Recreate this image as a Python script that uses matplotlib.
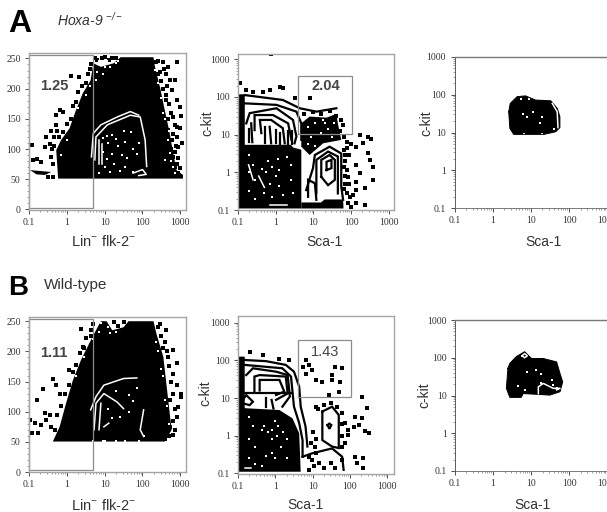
import numpy as np
import matplotlib
matplotlib.use('Agg')
import matplotlib.pyplot as plt
from matplotlib.ticker import FixedLocator, LogLocator, NullFormatter, MultipleLocator

plt.rcParams['font.family'] = ['Liberation Sans', 'DejaVu Sans']
plt.rcParams['mathtext.default'] = 'regular'

W, H = 607, 512
log_ticks = [0.1, 1, 10, 100, 1000]
log_labels = ['0.1', '1', '10', '100', '1000']
fsc_ticks = [0, 50, 100, 150, 200, 250]
gate_values = ['1.25', '2.04', '1.11', '1.43']
ko_title = 'Hoxa-9 $^{-/-}$'
wt_title = 'Wild-type'

# all x values below are log10 of intensity, y is FSC (left) or log10 (middle, right)
a1_body = [(-0.23,51),(-0.28,98),(-0.15,115),(0.07,134),(0.24,164),(0.42,192),(0.63,214),(0.70,242),(0.90,236),(1.24,242),(1.42,252),(2.29,252),(2.33,236),(2.46,203),(2.59,164),(2.72,126),(2.81,93),(2.90,65),(3.07,57),(3.07,51)]
a1_tail = [(-0.97,65),(-0.41,62),(-0.58,57),(-0.80,58)]
a1_white = [[(0.65,87),(0.70,126),(0.90,140),(1.33,153),(1.68,162),(1.90,156)],
            [(0.74,82),(0.77,120),(1.07,140),(1.68,156),(1.94,153),(2.07,115),(2.11,71)],
            [(0.85,76),(0.85,115)], [(0.94,76),(0.94,109)], [(1.75,60),(2.0,66),(2.1,58),(1.9,56)]]
a1_black = [(-0.91,106),(-0.89,82),(-0.80,84),(-0.67,79),(-0.58,104),(-0.45,109),(-0.54,120),(-0.41,129),(-0.28,140),(-0.28,156),(-0.10,162),(-0.19,164),(-0.37,76),(-0.41,87),(-0.50,54),(-0.37,53),(0.33,220),(0.11,221),
            (2.37,244),(2.55,244),(2.68,236),(2.90,244),(2.85,214),(2.63,225),(2.46,228),(2.77,198),(2.98,170),(2.90,181),(2.81,153),(2.68,131),(2.90,137),(2.77,115),(2.94,104),(2.81,87),(2.98,68),(2.85,71),(2.63,181),
            (0.81,247),(0.94,250),(1.11,247),(1.29,250),
            (2.42,225),(2.5,212),(2.55,200),(2.62,190),(2.7,175),(2.75,160),(2.68,150),(2.85,140),(2.8,125),(2.88,105),(2.9,120),(2.85,95),(2.95,85),(2.9,75),(2.95,60),(2.75,100),(2.65,205),(2.72,215),(2.58,232),(2.4,246),(3.05,110),(3.0,135),(3.02,155),
            (-0.2,120),(-0.1,128),(0,142),(0.1,150),(0.15,172),(0.25,178),(0.3,195),(0.4,205),(0.5,210),(0.55,225),(-0.33,105),(-0.33,120),(-0.4,100),(-0.25,130),(0.6,232),(0.65,240),(0.75,250),(1.0,252),(1.2,251)]
a1_specks = [(0.95,118),(1.05,122),(1.2,124),(1.3,117),(1.1,110),(1.35,105),(1.55,112),(1.7,128),(1.75,100),(1.2,92),(1.45,90),(1.6,85),(1.85,92),(1.0,70),(1.15,62),(1.4,64),(1.55,70),(1.75,62),(0.85,60),(1.25,76),(1.5,130),(1.9,110),(0.95,95),(1.05,84),
             (0.90,239),(0.81,228),(1.07,245),(1.29,242),(2.33,231),(2.55,159),(2.68,115),(2.59,82),(2.72,93),
             (0.3,168),(0.5,190),(0.6,205),(0.78,215),(0.95,225),(1.15,235),(1.35,245),(2.4,210),(2.5,185),(2.6,150),(2.7,130),(-0.15,90),(0,115),(2.75,80),(2.8,70),(2.85,60),(1.0,235),(0.85,245)]

a2_fill = [[(-1,-0.96),(-1,2.07),(-0.82,2.07),(-0.82,0.73),(0.40,0.73),(0.46,0.66),(0.68,0.60),(0.68,-0.96)],
           [(0.68,-0.96),(0.68,-0.80),(1.2,-0.80),(1.3,-0.72),(1.79,-0.72),(1.8,-0.96)],
           [(0.68,1.30),(0.90,1.48),(1.35,1.45),(1.61,1.55),(1.65,1.30),(1.74,0.86),(1.26,0.77),(0.90,0.46),(0.68,0.68)]]
a2_lines = [[(-0.82,2.05),(0.19,1.92),(0.64,1.70),(1.08,1.61),(1.61,1.70)],
            [(-0.82,1.83),(0.02,1.79),(0.55,1.61),(0.68,1.30),(0.68,0.86)],
            [(-0.78,1.30),(-0.69,1.57),(0.02,1.70),(0.46,1.39),(0.55,0.95),(0.50,0.77)],
            [(-0.56,1.12),(-0.56,1.52),(-0.07,1.52),(0.33,1.30),(0.42,0.86)],
            [(-0.38,1.04),(-0.42,1.39),(-0.12,1.39),(0.19,1.17),(0.24,0.77)],
            [(-0.29,1.21),(-0.29,0.77)], [(-0.16,1.21),(-0.12,0.77)], [(0.02,1.12),(0.02,0.77)],
            [(0.12,1.05),(0.12,0.75)], [(0.33,1.1),(0.33,0.75)], [(0.44,1.1),(0.44,0.75)], [(-0.72,1.15),(-0.72,0.8)], [(-0.65,1.3),(-0.62,0.8)],
            [(0.81,-0.47),(0.99,0.11),(1.04,0.46),(1.43,0.68),(1.74,0.50),(1.74,-0.38),(1.79,-0.73)],
            [(1.08,-0.56),(1.08,0.33),(1.39,0.55),(1.65,0.42),(1.65,-0.56)],
            [(1.21,-0.12),(1.21,0.33),(1.43,0.46),(1.57,0.33),(1.57,-0.20),(1.39,-0.34),(1.21,-0.12)],
            [(1.35,0.06),(1.35,0.28),(1.48,0.33),(1.48,0.11),(1.35,0.06)],
            [(0.86,-0.65),(0.86,-0.20),(1.04,-0.29),(1.08,-0.73)]]
a2_black = [(1.74,1.39),(1.79,1.26),(2.23,0.99),(2.45,0.93),(2.54,0.88),(2.32,0.77),(2.14,0.68),(1.88,0.64),(2.45,0.50),(2.50,0.33),(2.58,0.15),(2.14,0.19),(2.23,-0.03),(1.92,-0.12),(2.14,-0.25),(2.58,-0.20),(2.36,-0.42),(2.14,-0.47),(1.96,-0.65),(2.14,-0.82),(2.36,-0.87),(2.01,-0.91),(1.92,-0.82),(0.19,2.23),(0.11,2.27),(-0.12,3.14),(-0.96,2.36),(-0.78,2.19),(-0.60,2.14),(-0.34,2.14),(-0.16,2.19),(0.90,1.96),(0.50,1.96),(1.85,0.3),(1.9,0.05),(1.85,-0.3),(1.95,0.45),
            (0.75,1.55),(1.0,1.6),(1.2,1.55),(1.45,1.62),(1.6,1.5),(1.7,1.1),(1.8,0.95),(1.9,0.8),(2.0,0.75),(1.8,0.6),(1.85,0.45),(1.8,0.15),(1.85,-0.1),(1.8,-0.45),(1.9,-0.55),(1.95,-0.3),(2.05,-0.6)]
a2_specks = [(-0.7,0.45),(-0.6,0.2),(-0.7,0.0),(-0.55,-0.2),(-0.72,-0.5),(-0.55,-0.7),(-0.35,0.1),(-0.2,0.3),(-0.25,0),(-0.1,0.15),(0.05,0.35),(0.1,0.05),(0,-0.1),(-0.15,-0.3),(0.1,-0.35),(-0.3,-0.55),(-0.1,-0.65),(0.2,-0.6),(0.4,0.2),(0.4,-0.2),(0.45,-0.55),(0.3,0.4),
             (0.85,1.2),(1.05,1.3),(1.25,1.4),(0.95,0.95),(1.2,1.05),(1.4,1.15),(1.5,0.95),(1.05,0.7),(0.85,0.75),(1.3,1.3),(1.55,1.3)]
a2_white = [[(-0.15,-0.87),(0.3,-0.87)], [(-0.72,0.2),(-0.6,-0.2)], [(-0.45,-0.1),(-0.3,-0.4)]]

a3_body = [(0.42,1.55),(0.46,1.77),(0.64,1.95),(0.86,1.97),(1.12,1.86),(1.52,1.84),(1.69,1.64),(1.76,1.42),(1.76,1.13),(1.65,1.02),(1.34,0.95),(0.82,0.95),(0.55,0.95),(0.45,1.11)]
a3_white = [[(1.56,1.77),(1.69,1.55),(1.71,1.13)]]
a3_specks = [(1.06,1.55),(0.80,1.49),(0.90,1.40),(1.30,1.40),(1.24,1.24),(0.73,1.90),(0.95,1.90),(0.82,0.97),(1.30,0.97),(1.61,1.08)]

b1_body = [(-0.37,50.5),(-0.19,75),(-0.02,114),(0.16,152),(0.37,185),(0.59,213),(0.77,235),(0.90,250),(1.05,250),(1.20,235),(1.50,240),(1.63,250),(2.29,250),(2.37,229),(2.55,191),(2.63,147),(2.72,97),(2.77,70),(2.59,50.5)]
b1_white = [[(0.63,103),(0.77,125),(0.98,144),(1.50,155),(1.85,156)],
            [(2.03,103),(1.94,70),(2.03,59)],
            [(0.72,70),(0.77,114),(0.98,130),(1.33,116),(1.50,105)],
            [(0.85,70),(0.90,114)], [(0.98,75),(1.11,81)]]
b1_black = [(-0.97,86),(-0.84,81),(-0.93,64),(-0.76,64),(-0.80,120),(-0.63,138),(-0.37,155),(-0.58,97),(-0.45,95),(-0.41,75),(-0.28,144),(-0.19,130),(0.07,169),(0.37,237),(0.63,235),(0.42,207),(-0.67,78),(-0.54,86),
            (2.46,246),(2.63,235),(2.59,215),(2.81,202),(2.68,191),(2.90,180),(3.03,130),(2.81,163),(2.94,108),(2.90,92),(2.72,75),(2.81,62),(3.03,125),
            (-0.3,70),(-0.25,95),(-0.15,110),(-0.05,130),(0.05,145),(0.15,165),(0.25,178),(0.35,197),(0.45,205),(0.5,222),(0.65,225),(0.7,245),(1.05,240),(1.25,248),(1.35,242),(1.5,248),
            (2.4,240),(2.5,225),(2.55,205),(2.65,200),(2.7,175),(2.75,150),(2.8,130),(2.72,120),(2.85,105),(2.8,85),(2.85,70),(2.7,60),(2.6,55),(2.9,145)]
b1_specks = [(1.3,135),(1.65,128),(1.75,118),(1.65,100),(1.85,140),(1.1,105),(1.4,92),(1.2,90),(1.0,52),(1.3,52),(0.7,52),(0.95,52),(1.55,52),(1.9,52),(2.03,60),(0.9,247),(1.1,240),(2.37,215),(2.5,170),(2.6,120),
             (0.25,160),(0.45,190),(0.7,220),(0.85,232),(1.15,230),(1.3,232),(2.42,200),(2.55,160),(2.65,110),(2.7,80)]

b2_fill = [[(-1,-0.96),(-1,2.10),(-0.82,2.10),(-0.82,0.73),(0.11,0.68),(0.46,0.46),(0.64,0.06),(0.68,-0.96)]]
b2_lines = [[(-0.82,2.01),(-0.25,1.98),(0.28,1.88),(0.50,1.70),(0.64,1.30),(0.68,0.77),(0.81,0.24),(0.86,-0.29)],
            [(-0.82,1.88),(0.19,1.79),(0.42,1.57),(0.50,0.77),(0.64,0.33),(0.73,-0.12),(0.73,-0.56)],
            [(-0.78,1.61),(-0.60,1.79),(0.02,1.70),(0.33,1.61),(0.39,1.04),(0.19,0.77)],
            [(-0.56,1.17),(-0.56,1.57),(-0.42,1.61),(0.28,1.57),(0.33,1.12),(0.02,0.95)],
            [(-0.42,1.20),(-0.42,1.48),(0.11,1.48),(0.24,1.17),(0.02,1.08)],
            [(-0.87,0.95),(-0.78,1.08),(-0.60,0.90),(-0.69,0.81),(-0.87,0.86),(-0.87,0.95)],
            [(-0.82,1.12),(0.46,1.12)], [(-0.25,1.0),(-0.25,0.75)], [(-0.1,0.95),(-0.05,0.72)],
            [(1.26,0.64),(1.52,0.77),(1.70,0.55),(1.70,-0.33),(1.52,-0.29),(1.26,-0.12),(1.26,0.64)],
            [(1.40,0.28),(1.45,0.32),(1.50,0.28),(1.45,0.18),(1.40,0.28)],
            [(0.73,-0.56),(0.99,-0.47),(1.52,-0.34),(1.79,-0.56),(1.83,-0.91)]]
b2_black = [(0.81,1.65),(0.99,1.74),(1.08,1.48),(1.26,1.43),(1.52,1.61),(1.74,1.43),(1.79,1.79),(1.61,1.83),(0.81,2.01),(0.90,1.88),(0.73,1.83),(1.52,1.48),(1.43,1.08),(1.70,1.17),(1.08,0.77),(2.32,1.04),(2.45,0.73),(2.14,0.50),(2.32,0.46),(2.23,0.28),(2.41,0.11),(2.50,0.06),(1.96,0.15),(1.96,0.02),(2.10,0.24),(1.88,0.33),(1.88,-0.20),(2.14,-0.56),(2.36,-0.60),(2.19,-0.73),(2.36,-0.87),(1.79,-0.65),(-0.69,2.23),(-0.34,2.14),(0.11,2.05),(0.37,2.01),(0.99,-0.65),(1.17,-0.73),(1.04,-0.82),(1.30,-0.87),(1.48,-0.73),(1.61,-0.87),(0.90,-0.91),(1.08,-0.47),(0.90,-0.56),
            (1.15,0.7),(1.3,0.82),(1.5,0.88),(1.65,0.75),(1.78,0.6),(1.8,0.3),(1.8,0),(1.8,-0.3),(0.95,-0.2),(1.05,-0.3),(1.1,-0.1),(1.0,0.1)]
b2_specks = [(-0.7,0.5),(-0.6,0.25),(-0.7,-0.1),(-0.55,-0.3),(-0.7,-0.6),(-0.35,-0.8),(-0.55,-0.75),(-0.3,0.25),(-0.2,0.1),(-0.1,-0.1),(0.06,0.25),(-0.1,-0.45),(0,-0.6),(0.15,-0.3),(-0.25,-0.55),(0.2,0.1),(0.3,-0.1),(0,0.4),(-0.35,0.15),(-0.1,0.15),(0.05,0),(0.3,-0.6)]
b2_white = [[(-0.8,-0.85),(-0.65,-0.85)], [(-0.35,1.3),(-0.1,1.3)], [(-0.3,1.2),(-0.05,1.22)]]

b3_body = [(0.39,1.72),(0.44,1.85),(0.61,2.03),(0.83,2.16),(1.01,1.98),(1.32,1.98),(1.67,1.89),(1.76,1.58),(1.83,1.36),(1.76,1.10),(1.49,1.01),(1.19,1.03),(0.79,1.05),(0.74,0.95),(0.44,0.95),(0.35,1.19)]
b3_white = [[(1.19,1.05),(1.19,1.23),(1.32,1.32),(1.58,1.19),(1.76,1.19),(1.67,1.15)],
            [(0.76,2.05),(0.83,2.11),(0.90,2.05),(0.83,2.0),(0.76,2.05)]]
b3_specks = [(0.88,1.61),(1.12,1.67),(1.27,1.58),(0.66,1.26),(0.83,1.14),(1.27,1.32),(1.58,1.27),(1.54,1.41),(1.67,1.21)]


def frame(left, top, right, bottom, xtop, ymin, ymax, logy):
    ax = plt.gcf().add_axes([left/W, 1-bottom/H, (right-left)/W, (bottom-top)/H])
    ax.set_xscale('log')
    ax.set_xlim(0.1, 10**xtop)
    if logy:
        ax.set_yscale('log')
        ax.set_ylim(10**ymin, 10**ymax)
        ax.yaxis.set_major_locator(FixedLocator(log_ticks))
        ax.yaxis.set_minor_locator(LogLocator(base=10, subs=np.arange(2, 10), numticks=12))
        ax.yaxis.set_minor_formatter(NullFormatter())
        ax.set_yticklabels(log_labels)
    else:
        ax.set_ylim(ymin, ymax)
        ax.set_yticks(fsc_ticks)
        ax.yaxis.set_minor_locator(MultipleLocator(10))
    ax.xaxis.set_major_locator(FixedLocator(log_ticks))
    ax.xaxis.set_minor_locator(LogLocator(base=10, subs=np.arange(2, 10), numticks=12))
    ax.xaxis.set_minor_formatter(NullFormatter())
    ax.set_xticklabels(log_labels)
    ax.tick_params(which='major', length=3, width=0.6, pad=3, labelsize=7, color='#333333', labelcolor='#333333')
    ax.tick_params(which='minor', length=1.5, width=0.4, color='#555555')
    for lab in ax.get_xticklabels() + ax.get_yticklabels():
        lab.set_family('Liberation Serif')
    for s in ax.spines.values():
        s.set_color('#a5a5a5')
        s.set_linewidth(1.0)
    return ax


def xy(pts, logy):
    a = np.array(pts, dtype=float)
    x = 10**a[:, 0]
    y = 10**a[:, 1] if logy else a[:, 1]
    return x, y


def draw(ax, logy, fills=(), black=(), white=(), black_pts=None, white_pts=None, lw=1.6):
    for f in fills:
        x, y = xy(f, logy)
        ax.fill(x, y, color='black', lw=0)
    for l in black:
        x, y = xy(l, logy)
        ax.plot(x, y, color='black', lw=lw, solid_joinstyle='miter')
    for l in white:
        x, y = xy(l, logy)
        ax.plot(x, y, color='white', lw=1.1)
    if black_pts is not None:
        x, y = xy(black_pts, logy)
        ax.scatter(x, y, s=6, c='black', marker='s', linewidths=0)
    if white_pts is not None:
        x, y = xy(white_pts, logy)
        ax.scatter(x, y, s=4, c='white', marker='s', linewidths=0)


def gate(ax, x0, x1, y0, y1, logy):
    xs = 10**np.array([x0, x0, x1, x1, x0])
    ys = np.array([y0, y1, y1, y0, y0], dtype=float)
    if logy:
        ys = 10**ys
    ax.plot(xs, ys, color='#8c8c8c', lw=0.9, solid_joinstyle='miter', clip_on=False)


def third(ax):
    ax.spines['right'].set_visible(False)
    ax.spines['top'].set_color('#777777')
    ax.spines['left'].set_color('#444444')
    ax.spines['left'].set_linewidth(0.6)
    ax.spines['bottom'].set_color('#666666')
    ax.spines['bottom'].set_linewidth(0.6)


def label(px, py, s, **kw):
    kw.setdefault('ha', 'center')
    kw.setdefault('va', 'center')
    kw.setdefault('color', '#333333')
    kw.setdefault('fontsize', 10)
    plt.gcf().text(px/W, 1-py/H, s, **kw)


fig = plt.figure(figsize=(W/100, H/100), dpi=100)

# row A
ax = frame(29, 53, 186, 210, 3.15, -1, 259, False)
draw(ax, False, fills=[a1_body, a1_tail], white=a1_white, black_pts=a1_black, white_pts=a1_specks)
gate(ax, -1, 0.68, 3, 255, False)
ax.text(10**-0.34, 204, gate_values[0], fontsize=10.5, fontweight='bold', color='#444444', ha='center', va='center')

ax = frame(238, 54, 394, 210, 3.14, -1, 3.14, True)
draw(ax, True, fills=a2_fill, black=a2_lines, white=a2_white, black_pts=a2_black, white_pts=a2_specks)
gate(ax, 0.60, 2.03, 1.02, 2.56, True)
ax.text(10**1.32, 10**2.29, gate_values[1], fontsize=10.5, fontweight='bold', color='#444444', ha='center', va='center')

ax = frame(454.5, 57, 608, 208, 3.02, -1, 3.0, True)
third(ax)
draw(ax, True, fills=[a3_body], black=[a3_body + a3_body[:1]], white=a3_white, white_pts=a3_specks, lw=0.7)

# row B
ax = frame(29, 317, 186, 472, 3.15, 0, 257, False)
draw(ax, False, fills=[b1_body], white=b1_white, black_pts=b1_black, white_pts=b1_specks)
gate(ax, -1, 0.68, 3, 254, False)
ax.text(10**-0.34, 197, gate_values[2], fontsize=10.5, fontweight='bold', color='#444444', ha='center', va='center')

ax = frame(238, 316, 394, 474, 3.18, -1.02, 3.18, True)
draw(ax, True, fills=b2_fill, black=b2_lines, white=b2_white, black_pts=b2_black, white_pts=b2_specks)
gate(ax, 0.60, 2.03, 1.04, 2.54, True)
ax.text(10**1.32, 10**2.23, gate_values[3], fontsize=10.5, color='#444444', ha='center', va='center')

ax = frame(455, 320, 608, 471, 3.02, -1, 3.0, True)
third(ax)
draw(ax, True, fills=[b3_body], black=[b3_body + b3_body[:1]], white=b3_white, white_pts=b3_specks, lw=0.7)

# panel letters and titles
label(20, 24, 'A', fontsize=23, fontweight='bold', color='black')
label(18, 288, 'B', fontsize=20, fontweight='bold', color='black')
label(57, 20, ko_title, ha='left', fontsize=10, fontstyle='italic')
label(44, 285, wt_title, ha='left', fontsize=11)

# axis names
lin = 'Lin$^{-}$ flk-2$^{-}$'
label(104, 242, lin, fontsize=10.5)
label(104, 505, lin, fontsize=10.5)
for px, py in [(324, 242), (543, 242), (305, 505), (532, 505)]:
    label(px, py, 'Sca-1')
for px, py in [(207, 123), (426, 123), (205, 393), (424, 395)]:
    label(px, py, 'c-kit', rotation=90)

fig.savefig('out.png', dpi=100)
